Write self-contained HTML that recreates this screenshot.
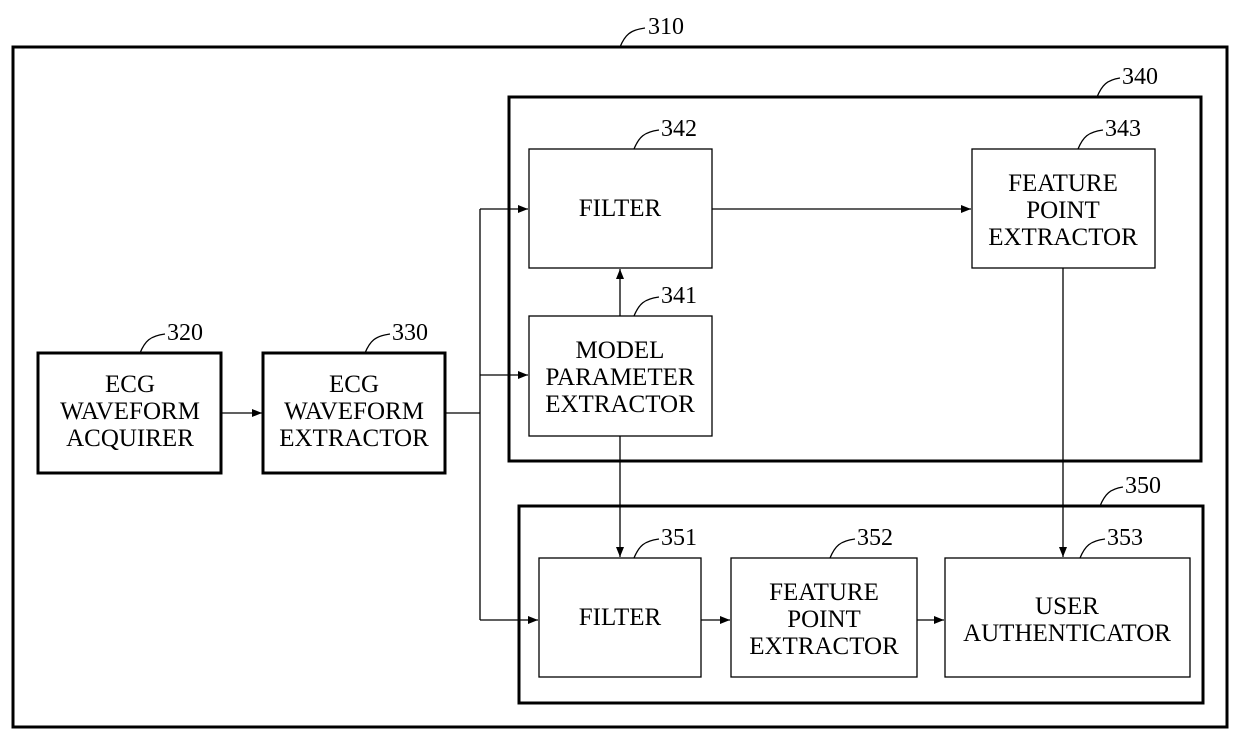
<!DOCTYPE html>
<html><head><style>body{margin:0;background:#fff}</style></head><body>
<svg width="1239" height="741" viewBox="0 0 1239 741" xmlns="http://www.w3.org/2000/svg" font-family="Liberation Serif, serif" font-size="25" fill="none" stroke="#000">
<defs><marker id="a" markerWidth="10" markerHeight="8" refX="10" refY="4" orient="auto" markerUnits="userSpaceOnUse"><path d="M0,0 L10,4 L0,8 z" fill="#000" stroke="none"/></marker></defs>
<rect x="13" y="47" width="1214" height="680" stroke-width="3"/>
<rect x="509" y="97" width="692" height="364" stroke-width="3"/>
<rect x="519" y="506" width="684" height="197" stroke-width="3"/>
<rect x="38" y="353" width="183" height="120" stroke-width="3"/>
<rect x="263" y="353" width="182" height="120" stroke-width="3"/>
<g stroke-width="1.3">
<rect x="529" y="149" width="183" height="119"/>
<rect x="972" y="149" width="183" height="119"/>
<rect x="529" y="316" width="183" height="120"/>
<rect x="539" y="558" width="162" height="119"/>
<rect x="731" y="558" width="186" height="119"/>
<rect x="945" y="558" width="245" height="119"/>
<path d="M221,413 H262" marker-end="url(#a)"/>
<path d="M446,413 H480 M480,209 V620" />
<path d="M480,209 H528" marker-end="url(#a)"/>
<path d="M480,375 H528" marker-end="url(#a)"/>
<path d="M480,620 H538" marker-end="url(#a)"/>
<path d="M712,209 H971" marker-end="url(#a)"/>
<path d="M620,316 V269" marker-end="url(#a)"/>
<path d="M620,436 V557" marker-end="url(#a)"/>
<path d="M1063,268 V557" marker-end="url(#a)"/>
<path d="M701,620 H730" marker-end="url(#a)"/>
<path d="M917,620 H944" marker-end="url(#a)"/>
<path d="M620,47 C625,35 630,30 645,28"/>
<path d="M1097,97 C1102,85 1107,80 1120,78"/>
<path d="M1100,506 C1105,494 1110,489 1123,487"/>
<path d="M140,353 C145,341 150,336 165,334"/>
<path d="M365,353 C370,341 375,336 390,334"/>
<path d="M634,149 C639,137 644,132 659,130"/>
<path d="M1078,149 C1083,137 1088,132 1103,130"/>
<path d="M634,316 C639,304 644,299 659,297"/>
<path d="M634,558 C639,546 644,541 659,539"/>
<path d="M830,558 C835,546 840,541 855,539"/>
<path d="M1080,558 C1085,546 1090,541 1105,539"/>
</g>
<g fill="#000" stroke="none">
<g font-size="24">
<text x="648" y="34">310</text><text x="1122" y="84">340</text><text x="1125" y="493">350</text>
<text x="167" y="340">320</text><text x="392" y="340">330</text>
<text x="661" y="136">342</text><text x="1105" y="136">343</text><text x="661" y="303">341</text>
<text x="661" y="545">351</text><text x="857" y="545">352</text><text x="1107" y="545">353</text>
</g>
<g text-anchor="middle">
<text x="130" y="392">ECG</text><text x="130" y="419">WAVEFORM</text><text x="130" y="446">ACQUIRER</text>
<text x="354" y="392">ECG</text><text x="354" y="419">WAVEFORM</text><text x="354" y="446">EXTRACTOR</text>
<text x="620" y="216">FILTER</text>
<text x="1063" y="191">FEATURE</text><text x="1063" y="218">POINT</text><text x="1063" y="245">EXTRACTOR</text>
<text x="620" y="358">MODEL</text><text x="620" y="385">PARAMETER</text><text x="620" y="412">EXTRACTOR</text>
<text x="620" y="625">FILTER</text>
<text x="824" y="600">FEATURE</text><text x="824" y="627">POINT</text><text x="824" y="654">EXTRACTOR</text>
<text x="1067" y="614">USER</text><text x="1067" y="641">AUTHENTICATOR</text>
</g></g>
</svg>
</body></html>
